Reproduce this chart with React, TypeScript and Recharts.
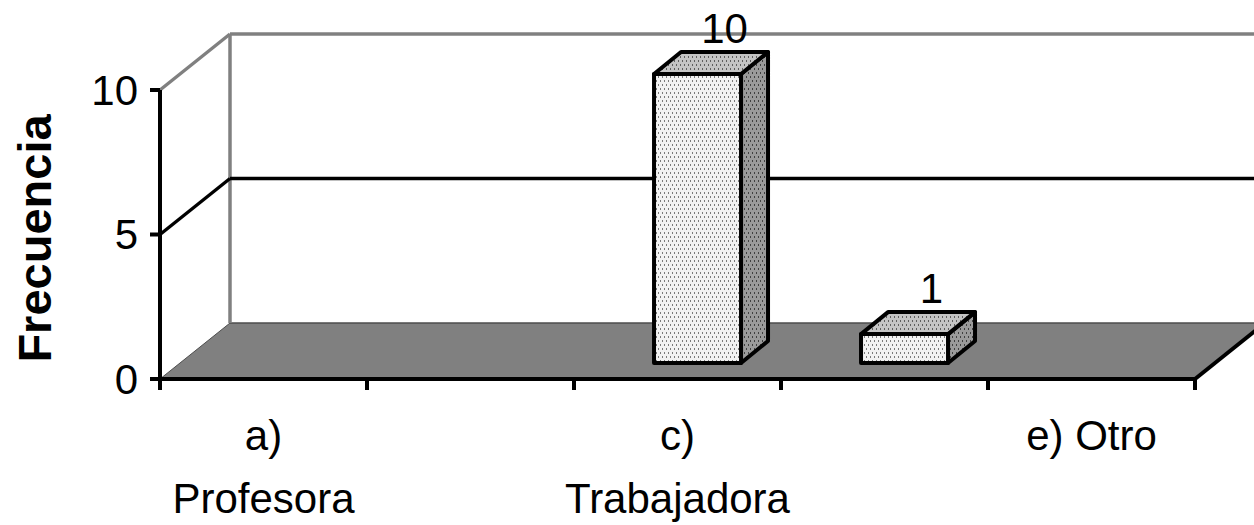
import {
  BarChart,
  Bar,
  XAxis,
  YAxis,
  ReferenceArea,
  ReferenceLine,
  Label,
} from "recharts";

const categories = ["a) Profesora", "b)", "c) Trabajadora", "d)", "e) Otro"];
const frecuencia = [0, 0, 10, 1, 0];
const yTicks = [0, 5, 10];
const yGridValue = 5;
const yMax = 10;

const data = categories.map((name, i) => ({ name, value: frecuencia[i] }));

const FONT = '"Liberation Sans", Arial, sans-serif';
const W = 1254;
const H = 525;
const MARGIN = { top: 90, right: 59, bottom: 0, left: 0 };
const Y_AXIS_W = 160;
const X_AXIS_H = 146;

// fake 3d: depth of floor / back wall and of the boxes
const DX = 70;
const DY = -56;
const BAR_FX = 20;
const BAR_FY = -16;
const BAR_DX = 27;
const BAR_DY = -22;

function Frame(props: any) {
  const { x, y, width: w, height: h } = props;
  const fy = y + h;
  return (
    <g>
      <polygon
        points={`${x},${fy} ${x + w},${fy} ${x + w + DX},${fy + DY} ${x + DX},${fy + DY}`}
        fill="#808080"
      />
      <line x1={x} y1={fy} x2={x + DX} y2={fy + DY} stroke="#4d4d4d" strokeWidth={1} />
      <line x1={x + DX} y1={fy + DY} x2={x + w + DX} y2={fy + DY} stroke="#4d4d4d" strokeWidth={1.5} />
      <line x1={x + w} y1={fy} x2={x + w + DX} y2={fy + DY} stroke="#000" strokeWidth={4} />
      <line x1={x + DX} y1={y + DY} x2={x + DX} y2={fy + DY} stroke="#808080" strokeWidth={3.5} />
      <line x1={x + DX} y1={y + DY} x2={x + w + DX} y2={y + DY} stroke="#808080" strokeWidth={3.5} />
      <line x1={x} y1={y} x2={x + DX} y2={y + DY} stroke="#808080" strokeWidth={3.5} />
    </g>
  );
}

function WallGrid(props: any) {
  const { x1, y1, x2, y2 } = props;
  return (
    <g>
      <line x1={x1} y1={y1} x2={x1 + DX} y2={y1 + DY} stroke="#000" strokeWidth={3.5} />
      <line x1={x1 + DX} y1={y1 + DY} x2={x2 + DX} y2={y2 + DY} stroke="#000" strokeWidth={3.5} />
    </g>
  );
}

function dotPattern(id: string, bg: string, dot: string) {
  return (
    <pattern id={id} width={4} height={8} patternUnits="userSpaceOnUse">
      <rect width={4} height={8} fill={bg} />
      <rect x={0} y={0} width={1} height={2} fill={dot} />
      <rect x={2} y={4} width={1} height={2} fill={dot} />
    </pattern>
  );
}

function Box(props: any) {
  const { x, y, width: w, height: h, value, index } = props;
  if (!h || h <= 0) return <g />;
  const x0 = x + BAR_FX;
  const y0 = y + BAR_FY;
  const fId = `box-front-${index}`;
  const tId = `box-top-${index}`;
  const sId = `box-side-${index}`;
  const top = `${x0},${y0} ${x0 + w},${y0} ${x0 + w + BAR_DX},${y0 + BAR_DY} ${x0 + BAR_DX},${y0 + BAR_DY}`;
  const side = `${x0 + w},${y0} ${x0 + w + BAR_DX},${y0 + BAR_DY} ${x0 + w + BAR_DX},${y0 + h + BAR_DY} ${x0 + w},${y0 + h}`;
  return (
    <g>
      <defs>
        {dotPattern(fId, "#f2f2f2", "#7a7a7a")}
        {dotPattern(tId, "#c4c4c4", "#5e5e5e")}
        {dotPattern(sId, "#9a9a9a", "#404040")}
      </defs>
      <polygon points={side} fill={`url(#${sId})`} stroke="#000" strokeWidth={4} strokeLinejoin="round" />
      <polygon points={top} fill={`url(#${tId})`} stroke="#000" strokeWidth={4} strokeLinejoin="round" />
      <rect x={x0} y={y0} width={w} height={h} fill={`url(#${fId})`} stroke="#000" strokeWidth={4} strokeLinejoin="round" />
      <text
        x={x0 + w / 2 + BAR_DX}
        y={y0 + BAR_DY - 9}
        textAnchor="middle"
        fontSize={42}
        fontFamily={FONT}
        fill="#000"
      >
        {value}
      </text>
    </g>
  );
}

// long labels wrap after the letter prefix, as Excel did
function wrapLabel(label: string) {
  if (label.length <= 10) return [label];
  const cut = label.indexOf(" ");
  return cut > 0 ? [label.slice(0, cut), label.slice(cut + 1)] : [label];
}

function CategoryTick(props: any) {
  const { x, y, payload, index } = props;
  const i = payload?.index ?? index;
  const plotW = W - MARGIN.left - MARGIN.right - Y_AXIS_W;
  const half = payload?.offset || plotW / categories.length / 2;
  const last = i === categories.length - 1;
  const lines = wrapLabel(String(payload.value));
  return (
    <g>
      <line x1={x - half} y1={y} x2={x - half} y2={y + 11} stroke="#000" strokeWidth={4} />
      {last && <line x1={x + half} y1={y} x2={x + half} y2={y + 11} stroke="#000" strokeWidth={4} />}
      {i % 2 === 0 && (
        <text x={x} y={y + 71} textAnchor="middle" fontSize={42} fontFamily={FONT} fill="#000">
          {lines.map((l, k) => (
            <tspan key={k} x={x} dy={k === 0 ? 0 : 63}>
              {l}
            </tspan>
          ))}
        </text>
      )}
    </g>
  );
}

function YTitle(props: any) {
  const vb = props.viewBox || { x: 0, y: MARGIN.top, width: Y_AXIS_W, height: 289 };
  const cx = vb.x + 34;
  const cy = vb.y + vb.height / 2 + 4;
  return (
    <text
      x={cx}
      y={cy}
      transform={`rotate(-90, ${cx}, ${cy})`}
      textAnchor="middle"
      dominantBaseline="central"
      fontSize={47}
      fontWeight="bold"
      fontFamily={FONT}
      fill="#000"
    >
      Frecuencia
    </text>
  );
}

export default function App() {
  return (
    <div style={{ position: "absolute", left: 0, top: 0, width: W, height: H, background: "#fff", fontFamily: FONT }}>
      <BarChart width={W} height={H} data={data} margin={MARGIN} barCategoryGap="29%">
        <ReferenceArea y1={0} y2={yMax} shape={Frame} ifOverflow="visible" zIndex={-20} />
        <ReferenceLine y={yGridValue} shape={WallGrid} ifOverflow="visible" zIndex={-10} />
        <XAxis
          dataKey="name"
          interval={0}
          height={X_AXIS_H}
          tickSize={0}
          tickMargin={0}
          tickLine={false}
          axisLine={{ stroke: "#000", strokeWidth: 4 }}
          tick={<CategoryTick />}
        />
        <YAxis
          width={Y_AXIS_W}
          domain={[0, yMax]}
          ticks={yTicks}
          allowDecimals={false}
          tickSize={10}
          tickMargin={12}
          tickLine={{ stroke: "#000", strokeWidth: 4 }}
          axisLine={{ stroke: "#000", strokeWidth: 4 }}
          tick={{ fontSize: 42, fill: "#000", fontFamily: FONT }}
        >
          <Label content={YTitle} />
        </YAxis>
        <Bar dataKey="value" shape={Box} isAnimationActive={false} />
      </BarChart>
    </div>
  );
}
